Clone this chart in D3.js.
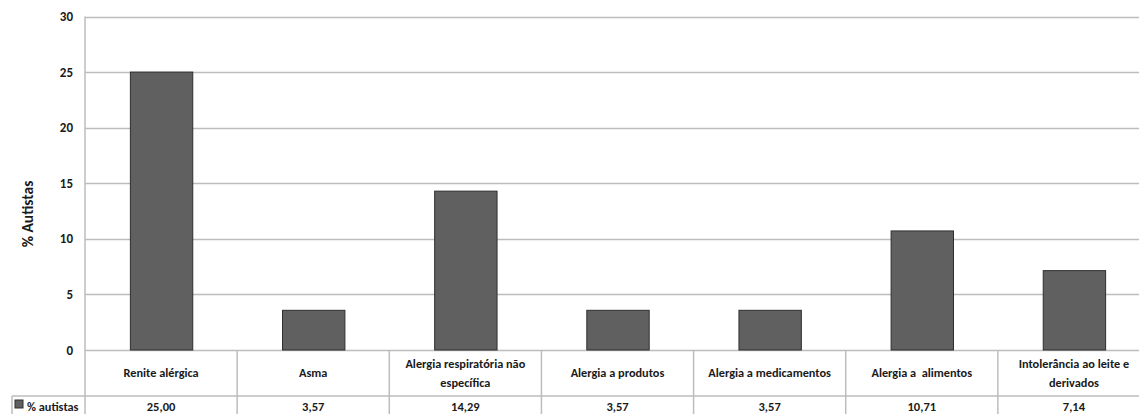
<!DOCTYPE html>
<html>
<head>
<meta charset="utf-8">
<script src="https://cdn.jsdelivr.net/npm/d3@7"></script>
<style>
  html, body { margin: 0; padding: 0; background: #fff; }
  svg { display: block; }
  text { font-family: Carlito, "Liberation Sans Narrow", "Liberation Sans", sans-serif; font-weight: bold; fill: #1a1a1a; white-space: pre; }
</style>
</head>
<body>
<svg id="chart" width="1139" height="414"></svg>
<script>
// Categories (each label split into lines as shown in the data table)
const categories = [
  ["Renite alérgica"],
  ["Asma"],
  ["Alergia respiratória não", "específica"],
  ["Alergia a produtos"],
  ["Alergia a medicamentos"],
  ["Alergia a  alimentos"],
  ["Intolerância ao leite e", "derivados"]
];
const values = [25.00, 3.57, 14.29, 3.57, 3.57, 10.71, 7.14];
const valueLabels = ["25,00", "3,57", "14,29", "3,57", "3,57", "10,71", "7,14"];
const yTicks = [0, 5, 10, 15, 20, 25, 30];
const seriesName = "% autistas";
const axisTitle = "% Autistas";

const svg = d3.select("#chart");
const W = 1139, H = 414;
const plotLeft = 85, plotRight = 1150, plotTop = 16.5, zeroY = 350;
const rowSplit = 396, tableLeft = 12;

const ids = d3.range(categories.length);
const x = d3.scaleBand().domain(ids).range([plotLeft, plotRight]).paddingInner(0.59).paddingOuter(0.295);
const y = d3.scaleLinear().domain([0, 30]).range([zeroY, plotTop]);

const grid = "#bdbdbd";

// horizontal gridlines
svg.append("g").selectAll("line").data(yTicks).join("line")
  .attr("x1", plotLeft).attr("x2", W)
  .attr("y1", d => Math.round(y(d)) + 0.5).attr("y2", d => Math.round(y(d)) + 0.5)
  .attr("stroke", grid).attr("stroke-width", 1.5);

// y tick labels
svg.append("g").selectAll("text").data(yTicks).join("text")
  .attr("x", 73).attr("y", d => y(d) + 4.5)
  .attr("text-anchor", "end").attr("font-size", 13)
  .text(d => d);

// axis title
svg.append("text")
  .attr("transform", `translate(33,${214}) rotate(-90)`)
  .attr("text-anchor", "middle").attr("font-size", 15.5)
  .text(axisTitle);

// bars
svg.append("g").selectAll("rect").data(values).join("rect")
  .attr("x", (d, i) => x(i) + 0.5)
  .attr("y", d => y(d))
  .attr("width", x.bandwidth())
  .attr("height", d => zeroY - y(d))
  .attr("fill", "#606060").attr("stroke", "#2e2e2e").attr("stroke-width", 1);

// table grid
const step = x.step();
const bounds = d3.range(categories.length + 1).map(i => plotLeft + i * step);
const tg = svg.append("g").attr("stroke", grid).attr("stroke-width", 1.5);
tg.append("line").attr("x1", plotLeft).attr("x2", plotLeft).attr("y1", plotTop).attr("y2", H);
tg.selectAll("line.v").data(bounds.slice(1)).join("line").attr("class", "v")
  .attr("x1", d => d).attr("x2", d => d).attr("y1", zeroY).attr("y2", H);
tg.append("line").attr("x1", tableLeft).attr("x2", W).attr("y1", rowSplit).attr("y2", rowSplit);
tg.append("line").attr("x1", tableLeft).attr("x2", tableLeft).attr("y1", rowSplit).attr("y2", H);

// category labels
const lab = svg.append("g").selectAll("text").data(categories).join("text")
  .attr("text-anchor", "middle").attr("font-size", 12.3);
lab.each(function(lines, i) {
  const cx = plotLeft + (i + 0.5) * step;
  const cy = (zeroY + rowSplit) / 2;
  const lh = 19;
  const y0 = cy - (lines.length - 1) * lh / 2 + 4;
  d3.select(this).selectAll("tspan").data(lines).join("tspan")
    .attr("x", cx).attr("y", (d, k) => y0 + k * lh).text(d => d);
});

// value row
svg.append("g").selectAll("text").data(valueLabels).join("text")
  .attr("x", (d, i) => plotLeft + (i + 0.5) * step).attr("y", 410.5)
  .attr("text-anchor", "middle").attr("font-size", 12.5)
  .text(d => d);

// series legend key
svg.append("rect").attr("x", 15).attr("y", 400).attr("width", 8).attr("height", 8)
  .attr("fill", "#606060").attr("stroke", "#2e2e2e");
svg.append("text").attr("x", 27).attr("y", 410.5).attr("font-size", 12.3).text(seriesName);
</script>
</body>
</html>
